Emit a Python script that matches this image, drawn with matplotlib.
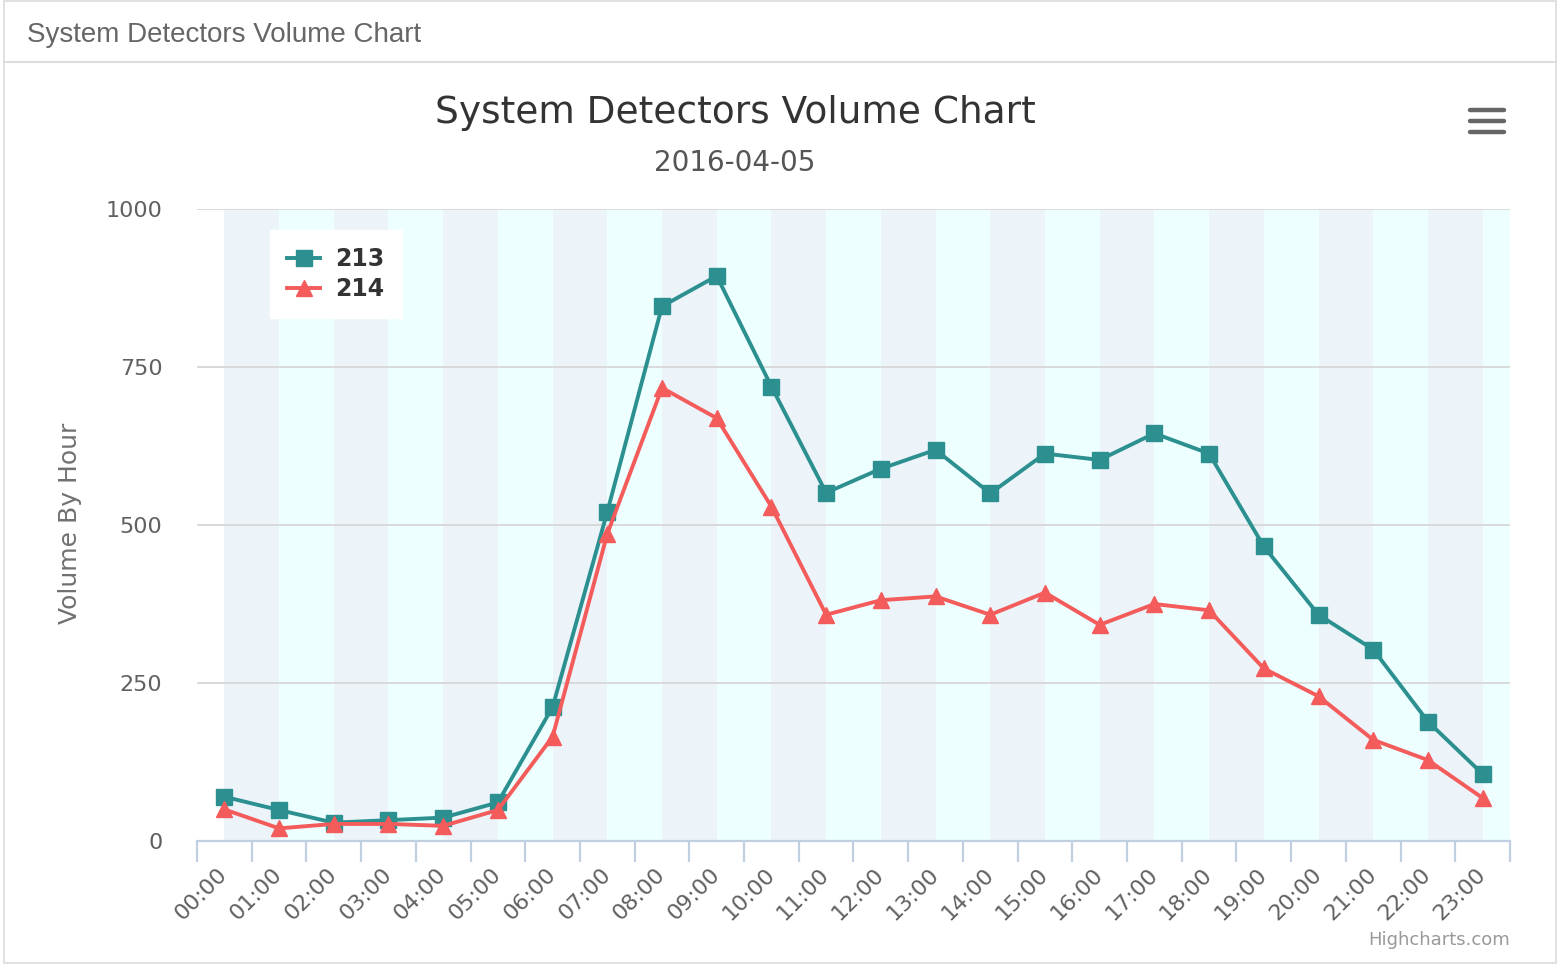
import matplotlib
matplotlib.use("Agg")
import matplotlib.pyplot as plt
from matplotlib.lines import Line2D
from matplotlib.patches import Rectangle

hours = ["00:00", "01:00", "02:00", "03:00", "04:00", "05:00", "06:00", "07:00",
         "08:00", "09:00", "10:00", "11:00", "12:00", "13:00", "14:00", "15:00",
         "16:00", "17:00", "18:00", "19:00", "20:00", "21:00", "22:00", "23:00"]
s213 = [70, 49, 29, 33, 37, 61, 212, 521, 846, 894, 719, 551, 589, 619, 550, 613,
        603, 645, 613, 466, 358, 303, 189, 106]
s214 = [50, 20, 27, 27, 24, 49, 165, 486, 717, 669, 529, 358, 381, 387, 358, 393,
        342, 375, 365, 273, 229, 160, 128, 68]
yticks = [0, 250, 500, 750, 1000]

W, H = 1558, 964
fig = plt.figure(figsize=(W / 100, H / 100), dpi=100)
fig.patch.set_facecolor("white")

def fx(px):
    return px / W

def fy(py):
    return 1 - py / H

# outer panel border and header separator
fig.add_artist(Rectangle((fx(4), fy(963)), fx(1552), 962 / H, transform=fig.transFigure,
                         fill=False, edgecolor="#dcdcdc", lw=1.2))
fig.add_artist(Line2D([fx(4), fx(1556)], [fy(62), fy(62)], transform=fig.transFigure,
                      color="#dcdcdc", lw=1.5))
fig.text(fx(27), fy(35), "System Detectors Volume Chart", ha="left", va="center",
         fontsize=20, color="#666666", family="Liberation Sans")

ax = fig.add_axes([fx(197), fy(841), fx(1510) - fx(197), (841 - 209) / H])
n = len(hours)
x = list(range(n))
ax.set_xlim(-0.5, n - 0.5)
ax.set_ylim(0, 1000)

# alternating plot bands between category centres
band_cols = ["#ecf4fa", "#eeffff"]
for i in range(n):
    ax.axvspan(i, min(i + 1, n - 0.5), color=band_cols[i % 2], lw=0, zorder=0)

for yv in yticks[1:]:
    ax.axhline(yv, color="#d9d9d9", lw=1.4, zorder=1)

c213 = "#2b908f"
c214 = "#f45b5b"
ax.plot(x, s213, color=c213, lw=2.8, marker="s", ms=11, label="213", zorder=3)
ax.plot(x, s214, color=c214, lw=2.8, marker="^", ms=12, label="214", zorder=4)

for sp in ["top", "right", "left"]:
    ax.spines[sp].set_visible(False)
ax.spines["bottom"].set_color("#c0d0e0")
ax.spines["bottom"].set_linewidth(1.6)
ax.spines["bottom"].set_zorder(5)

ax.set_xticks(x)
ax.set_xticklabels(hours)
ax.set_xticks([i - 0.5 for i in range(n + 1)], minor=True)
ax.tick_params(axis="x", which="major", length=0, pad=22, labelsize=16, labelcolor="#606060")
ax.tick_params(axis="x", which="minor", length=15, width=1.6, color="#c0d0e0")
for lab in ax.get_xticklabels():
    lab.set_rotation(45)
    lab.set_ha("right")
    lab.set_va("center")
    lab.set_rotation_mode("anchor")

ax.set_yticks(yticks)
ax.set_yticklabels([str(v) for v in yticks])
ax.tick_params(axis="y", length=0, pad=25, labelsize=16, labelcolor="#606060")
fig.text(fx(70), fy(523), "Volume By Hour", rotation=90, ha="center", va="center",
         fontsize=18, color="#707070")

fig.text(fx(735), fy(113), "System Detectors Volume Chart", ha="center", va="center",
         fontsize=27, color="#333333")
fig.text(fx(735), fy(163), "2016-04-05", ha="center", va="center",
         fontsize=20, color="#555555")

leg = ax.legend(loc="upper left", bbox_to_anchor=(fx(270), fy(230)),
                bbox_transform=fig.transFigure, borderaxespad=0,
                frameon=True, fancybox=False, framealpha=1, facecolor="white",
                edgecolor="white", prop={"weight": "bold", "size": 17},
                borderpad=0.72, handlelength=1.4, handletextpad=0.65, labelspacing=0.25)
for t in leg.get_texts():
    t.set_color("#333333")

# menu icon
for yy in [110, 121, 132]:
    fig.add_artist(Line2D([fx(1470), fx(1504)], [fy(yy), fy(yy)], transform=fig.transFigure,
                          color="#666666", lw=3.2, solid_capstyle="round"))

fig.text(fx(1510), fy(940), "Highcharts.com", ha="right", va="center",
         fontsize=13, color="#999999")

fig.savefig("out.png", dpi=100, facecolor="white")
